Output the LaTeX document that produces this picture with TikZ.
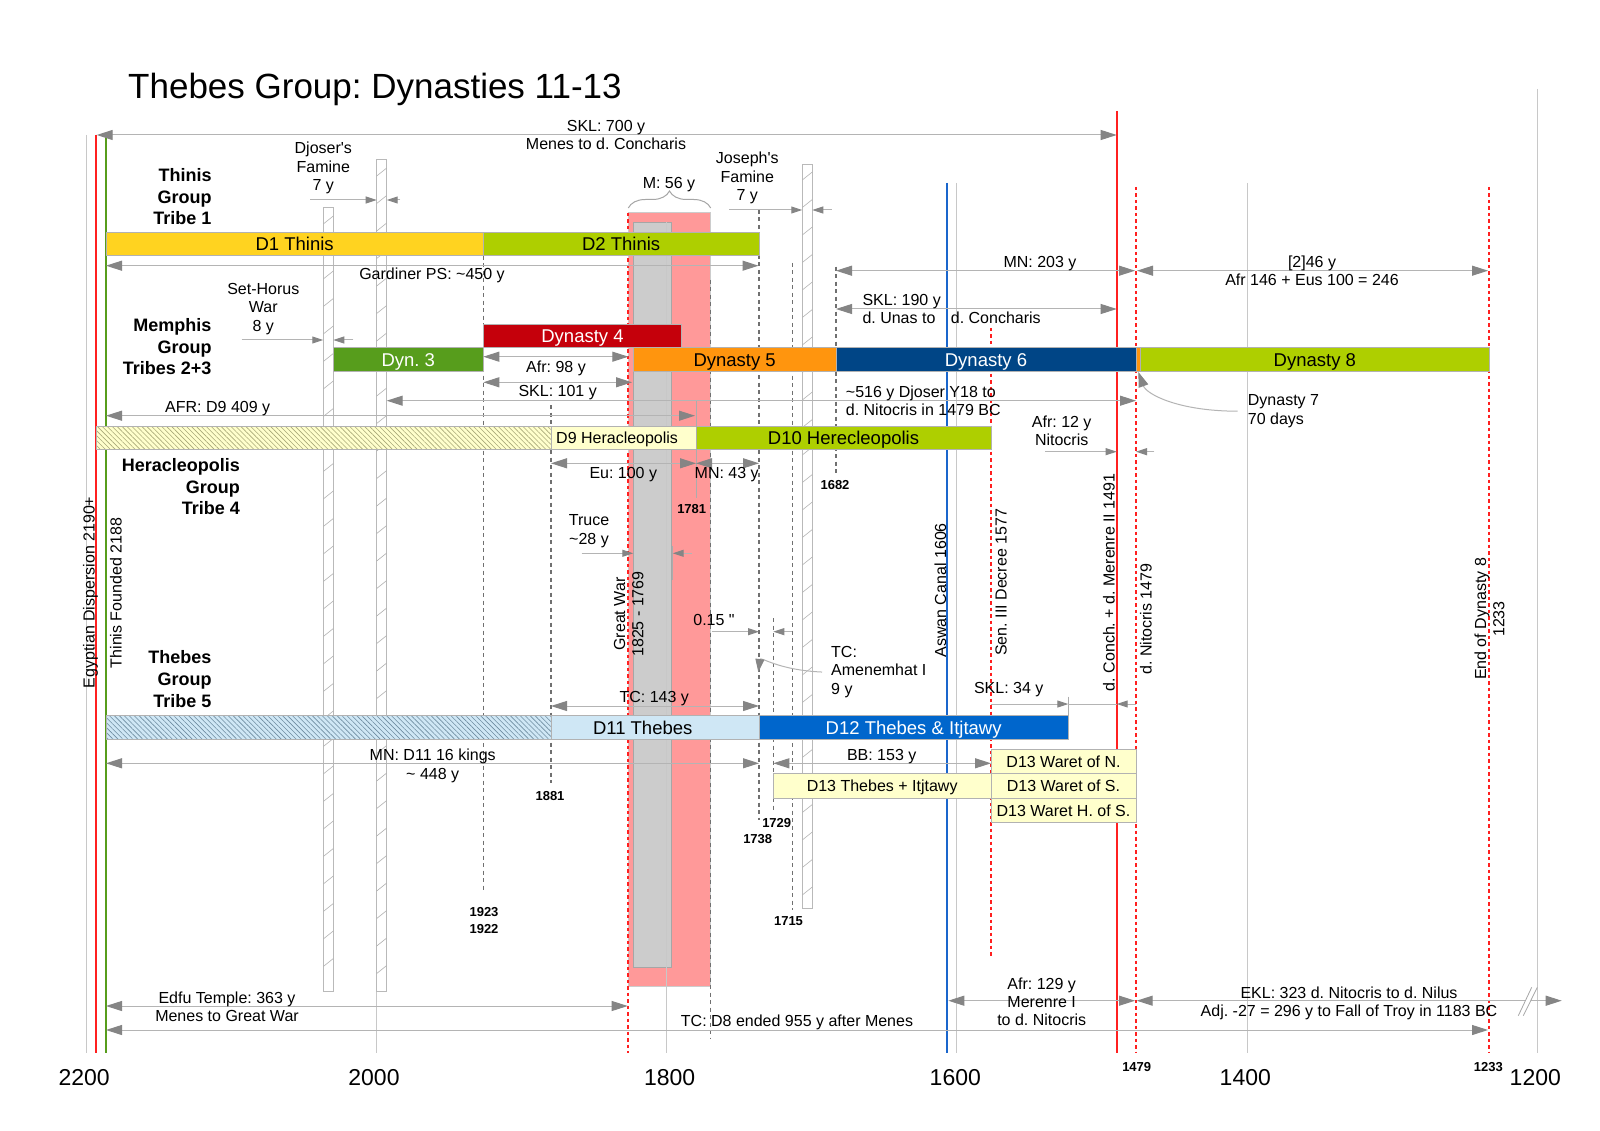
\documentclass[tikz,border=0pt]{standalone}
\usepackage{fontspec}
\setmainfont{Liberation Sans}[Ligatures=TeXOff]
\usetikzlibrary{arrows.meta,patterns.meta,decorations.pathreplacing,fit}
\definecolor{cD1}{HTML}{FFD320}
\definecolor{cLime}{HTML}{AECF00}
\definecolor{cD4}{HTML}{C5000B}
\definecolor{cD3}{HTML}{579D1C}
\definecolor{cOr}{HTML}{FF950E}
\definecolor{cD6}{HTML}{004586}
\definecolor{cD12}{HTML}{0066CC}
\definecolor{cLY}{HTML}{FFFFCC}
\definecolor{cLB}{HTML}{CFE7F5}
\definecolor{cHY}{HTML}{A8A878}
\definecolor{cHB}{HTML}{6E8CA0}
\definecolor{cRedBox}{HTML}{FF9999}
\definecolor{cGrayBox}{HTML}{CCCCCC}
\definecolor{cGrid}{HTML}{C8C8C8}
\definecolor{cDash}{HTML}{707070}
\definecolor{cRed}{HTML}{FF2020}
\definecolor{cGreen}{HTML}{579D1C}
\definecolor{cBlue}{HTML}{1A66CC}
\definecolor{cLine}{HTML}{B4B4B4}
\definecolor{cTip}{HTML}{858585}
\newcommand\mlc[1]{\begin{tabular}[t]{@{}c@{}}#1\end{tabular}}
\newcommand\mll[1]{\begin{tabular}[t]{@{}l@{}}#1\end{tabular}}
\newcommand\mlr[1]{\begin{tabular}[t]{@{}r@{}}#1\end{tabular}}
\tikzset{
  bigT/.tip={Triangle[length=16pt,width=10pt,color=cTip]},
  smT/.tip={Triangle[length=11pt,width=7pt,color=cTip]},
  lbl/.style={inner sep=0pt, font=\fontsize{16}{18.3}\selectfont},
  grp/.style={inner sep=0pt, font=\bfseries\fontsize{18}{21.7}\selectfont},
  yr/.style={inner sep=0pt, font=\bfseries\fontsize{13}{17}\selectfont},
  axl/.style={inner sep=0pt, font=\fontsize{23}{26}\selectfont},
  ttl/.style={inner sep=0pt, font=\fontsize{35}{40}\selectfont},
  barbox/.style={draw=gray!60, line width=0.6pt, inner sep=0pt},
  bartext/.style={inner sep=0pt, anchor=center, text height=13.2pt, text depth=0pt, font=\fontsize{18.5}{22}\selectfont},
  smalltext/.style={inner sep=0pt, anchor=center, text height=11.5pt, text depth=0pt, font=\fontsize{16}{18.3}\selectfont},
  dimline/.style={draw=cLine, line width=1pt},
  dimboth/.style={dimline, bigT-bigT},
  dimsm/.style={dimline, -smT},
  extln/.style={draw=gray!65, line width=1pt},
  gridln/.style={draw=cGrid, line width=1pt},
  gdash/.style={draw=cDash, line width=1.4pt, dash pattern=on 4pt off 3.5pt},
  rdot/.style={draw=cRed, line width=1.8pt, dash pattern=on 3.5pt off 3pt},
  redln/.style={draw=cRed, line width=2pt},
  greenln/.style={draw=cGreen, line width=2pt},
  blueln/.style={draw=cBlue, line width=2pt},
  vbar/.style={fill=white, draw=gray!55, line width=0.8pt},
  hsl/.style={draw=gray!60, line width=0.6pt},
}
\newcommand\tlbar[8]{\node[barbox, fill=#6, fit={(#2,#3) (#4,#5)}] (#1) {};
  \node[bartext, text=#7] (#1t) at (#1.center) {#8};}
\newcommand\tlsmall[6]{\node[barbox, fill=cLY, fit={(#2,#3) (#4,#5)}] (#1) {};
  \node[smalltext] (#1t) at (#1.center) {#6};}
\begin{document}
\frenchspacing
\begin{tikzpicture}[x=1pt,y=-1pt]
\useasboundingbox (0,0) rectangle (1600,1131);
\fill[white] (0,0) rectangle (1600,1131);

% Great War boxes
\draw[fill=cRedBox, draw=gray!40, line width=0.6pt] (628.3,212.7) rectangle (710.7,986.7);
\draw[fill=cGrayBox, draw=gray!70, line width=0.8pt] (633.3,222.3) rectangle (671.7,967.3);
\draw[draw=gray!70, line width=1pt, decorate, decoration={brace, amplitude=17pt}] (628.3,208) -- (710.7,208);

% grid lines
\draw[gridln] (86.7,135) -- (86.7,1053);
\draw[gridln] (376.7,991) -- (376.7,1053);
\draw[gridln] (666.7,222) -- (666.7,1053);
\draw[gridln] (956.7,183) -- (956.7,1053);
\draw[gridln] (1247.7,183) -- (1247.7,1053);
\draw[gridln] (1537.3,89) -- (1537.3,1053);

% hatched vertical bars
\draw[vbar] (323.3,207) rectangle (333.3,991);
\foreach \yy in {216,243.5,...,985} \draw[hsl] (323.3,\yy+8) -- (333.3,\yy);
\draw[vbar] (376.7,159) rectangle (386.7,991);
\foreach \yy in {168,195.5,...,985} \draw[hsl] (376.7,\yy+8) -- (386.7,\yy);
\draw[vbar] (802.3,164) rectangle (812.3,908);
\foreach \yy in {172,199.5,...,900} \draw[hsl] (802.3,\yy+8) -- (812.3,\yy);

% coloured vertical lines
\draw[redln] (96,135) -- (96,1053);
\draw[greenln] (106,135) -- (106,1053);
\draw[blueln] (947.3,183) -- (947.3,1053);
\draw[redln] (1116.7,111) -- (1116.7,1053);
\draw[rdot] (1136,187) -- (1136,1053);
\draw[rdot] (1489,187) -- (1489,1053);
\draw[rdot] (991,328) -- (991,958);
\draw[rdot] (628.3,212.7) -- (628.3,1053);

% grey dashed year lines
\draw[gdash] (483.3,255.7) -- (483.3,891.7);
\draw[gdash] (551,405) -- (551,783);
\draw[gdash] (710.7,280) -- (710.7,1039);
\draw[gdash] (759,210) -- (759,820);
\draw[gdash] (773.3,618) -- (773.3,811);
\draw[gdash] (792.3,263) -- (792.3,910);
\draw[gdash] (836,266.7) -- (836,473);

% bars
\tlbar{d1}{106}{232.3}{483.3}{255.7}{cD1}{black}{D1 Thinis}
\tlbar{d2}{483.3}{232.3}{759}{255.7}{cLime}{black}{D2 Thinis}
\tlbar{d4}{483.3}{324}{681.7}{347.7}{cD4}{white}{Dynasty 4}
\tlbar{d3}{333.3}{347.7}{483.3}{371.7}{cD3}{white}{Dyn. 3}
\tlbar{d5}{633.3}{347.7}{836}{371.7}{cOr}{black}{Dynasty 5}
\tlbar{d6}{836}{347.7}{1136}{371.7}{cD6}{white}{Dynasty 6}
\tlbar{d7}{1136}{347.7}{1140.7}{371.7}{cOr}{black}{}
\tlbar{d8}{1140.7}{347.7}{1489}{371.7}{cLime}{black}{Dynasty 8}
\path[fill=cLY] (96,426) rectangle (551,449);
\path[pattern={Lines[angle=-45,distance=3.5pt,line width=0.6pt]}, pattern color=cHY] (96,426) rectangle (551,449);
\draw[draw=gray!60, line width=0.6pt] (96,426) rectangle (551,449);
\tlbar{d9}{551}{426}{696}{449}{cLY}{black}{}
\node[lbl, anchor=base west] (d9lbl) at (556,443.2) {D9 Heracleopolis};
\tlbar{d10}{696}{426}{991}{449}{cLime}{black}{D10 Herecleopolis}
\path[fill=cLB] (106,715.7) rectangle (551,739.3);
\path[pattern={Lines[angle=-45,distance=3.5pt,line width=0.6pt]}, pattern color=cHB] (106,715.7) rectangle (551,739.3);
\draw[draw=gray!60, line width=0.6pt] (106,715.7) rectangle (551,739.3);
\tlbar{d11}{551}{715.7}{759}{739.3}{cLB}{black}{}
\node[bartext] (d11lbl) at (642.7,727.5) {D11 Thebes};
\tlbar{d12}{759}{715.7}{1068.3}{739.3}{cD12}{white}{D12 Thebes \& Itjtawy}
\tlsmall{d13n}{991}{749.3}{1136}{773.3}{D13 Waret of N.}
\tlsmall{d13t}{773.3}{773.3}{991}{798.3}{D13 Thebes + Itjtawy}
\tlsmall{d13s}{991}{773.3}{1136}{798.3}{D13 Waret of S.}
\tlsmall{d13h}{991}{798.3}{1136}{822.3}{D13 Waret H. of S.}

% extension lines
\draw[extln] (696,401) -- (696,498);
\draw[extln] (672.7,546) -- (672.7,580);
\draw[extln] (1068.3,696.7) -- (1068.3,715.7);

% dimension arrows
\draw[dimboth] (96.7,135) -- (1116.7,135);
\draw[dimsm] (310,200) -- (376.7,200);
\draw[dimsm] (400,200) -- (386.7,200);
\draw[dimsm] (241.7,340) -- (323.3,340);
\draw[dimsm] (353.3,340) -- (333.3,340);
\draw[dimsm] (729.3,210) -- (802.3,210);
\draw[dimsm] (831.7,210) -- (812.3,210);
\draw[dimboth] (106,265.7) -- (758.5,265.7);
\draw[dimboth] (836,270.7) -- (1135,270.7);
\draw[dimboth] (1137,270.7) -- (1488,270.7);
\draw[dimboth] (836,309) -- (1116.7,309);
\draw[dimboth] (483.3,356.7) -- (628.3,356.7);
\draw[dimboth] (483.3,382.3) -- (632,382.3);
\draw[dimboth] (386.7,400.7) -- (1136,400.7);
\draw[dimboth] (106,415.7) -- (695,415.7);
\draw[dimsm] (1045,451.7) -- (1116.7,451.7);
\draw[dimsm] (1154.3,451.7) -- (1136,451.7);
\draw[dimboth] (551,463.3) -- (696,463.3);
\draw[dimboth] (696,463.3) -- (759,463.3);
\draw[dimsm] (581.7,553.3) -- (633.3,553.3);
\draw[dimsm] (691.7,553.3) -- (672.7,553.3);
\draw[dimsm] (711.7,631.7) -- (759,631.7);
\draw[dimsm] (792,631.7) -- (773.3,631.7);
\draw[dimboth] (551,706) -- (759,706);
\draw[dimsm] (991,704) -- (1068.3,704);
\draw[dimline] (1068.3,704) -- (1116.7,704);
\draw[dimsm] (1136,704) -- (1116.7,704);
\draw[dimboth] (106,763.3) -- (759,763.3);
\draw[dimboth] (773.3,763.3) -- (991,763.3);
\draw[dimboth] (106,1006) -- (627.7,1006);
\draw[dimboth] (106,1030) -- (1488,1030);
\draw[dimboth] (948.3,1000.7) -- (1135,1000.7);
\draw[dimboth] (1136.7,1000.7) -- (1561.7,1000.7);
\fill[white] (1518.3,1015.7) -- (1531.7,987.3) -- (1537.3,987.3) -- (1523.3,1015.7) -- cycle;
\draw[draw=gray!70, line width=0.8pt] (1518.3,1015.7) -- (1531.7,987.3);
\draw[draw=gray!70, line width=0.8pt] (1523.3,1015.7) -- (1537.3,987.3);

% title
\node[ttl, anchor=base west] (title) at (128,98.5) {Thebes Group: Dynasties 11-13};

% group labels
\node[grp, anchor=base east] (g1) at (211.7,181.4) {\mlr{Thinis\\Group\\Tribe 1}};
\node[grp, anchor=base east] (g2) at (211.7,331.4) {\mlr{Memphis\\Group\\Tribes 2+3}};
\node[grp, anchor=base east] (g3) at (240,471.4) {\mlr{Heracleopolis\\Group\\Tribe 4}};
\node[grp, anchor=base east] (g4) at (211.7,663.7) {\mlr{Thebes\\Group\\Tribe 5}};

% labels
\node[lbl, anchor=base] (skl700) at (606,131.4) {\mlc{SKL: 700 y\\Menes to d. Concharis}};
\node[lbl, anchor=base] (djf) at (323.3,154) {\mlc{Djoser's\\Famine\\7 y}};
\node[lbl, anchor=base] (shw) at (263.3,294.7) {\mlc{Set-Horus\\War\\8 y}};
\node[lbl, anchor=base] (jf) at (747.3,164) {\mlc{Joseph's\\Famine\\7 y}};
\node[lbl, anchor=base] (m56) at (669,188.4) {M: 56 y};
\node[lbl, anchor=base] (gps) at (432,280) {Gardiner PS: \textasciitilde450 y};
\node[lbl, anchor=base] (mn203) at (1040,267.4) {MN: 203 y};
\node[lbl, anchor=base] (a246) at (1312,267.4) {\mlc{{[2]}46 y\\Afr 146 + Eus 100 = 246}};
\node[lbl, anchor=base west] (skl190) at (862.3,305.7) {\mll{SKL: 190 y\\d. Unas to\hspace{11pt} d. Concharis}};
\node[lbl, anchor=base] (afr98) at (556,372.4) {Afr: 98 y};
\node[lbl, anchor=base] (skl101) at (557.7,396.7) {SKL: 101 y};
\node[lbl, anchor=base west] (dj516) at (845.7,397.4) {\mll{\textasciitilde516 y Djoser Y18 to\\d. Nitocris in 1479 BC}};
\node[lbl, anchor=base] (afrd9) at (217.7,412.4) {AFR: D9 409 y};
\node[lbl, anchor=base] (afr12) at (1061.7,427.4) {\mlc{Afr: 12 y\\Nitocris}};
\node[lbl, anchor=base west] (d7lbl) at (1247.7,405.7) {\mll{Dynasty 7\\70 days}};
\node[lbl, anchor=base] (eu100) at (623.3,478.4) {Eu: 100 y};
\node[lbl, anchor=base] (mn43) at (726.7,478.4) {MN: 43 y};
\node[lbl, anchor=base] (truce) at (589,525.7) {\mlc{Truce\\\textasciitilde28 y}};
\node[lbl, anchor=base] (p15) at (714,625) {0.15 "};
\node[lbl, anchor=base west] (tcam) at (831,657.4) {\mll{TC:\\Amenemhat I\\9 y}};
\node[lbl, anchor=base] (tc143) at (654.3,702.4) {TC: 143 y};
\node[lbl, anchor=base] (skl34) at (1008.7,693.4) {SKL: 34 y};
\node[lbl, anchor=base] (mnd11) at (432.7,760.7) {\mlc{MN: D11 16 kings\\\textasciitilde{} 448 y}};
\node[lbl, anchor=base] (bb153) at (881.7,760) {BB: 153 y};
\node[lbl, anchor=base] (edfu) at (227,1003) {\mlc{Edfu Temple: 363 y\\Menes to Great War}};
\node[lbl, anchor=base] (tcd8) at (797,1026.4) {TC: D8 ended 955 y after Menes};
\node[lbl, anchor=base] (afr129) at (1041.7,989) {\mlc{Afr: 129 y\\Merenre I\\to d. Nitocris}};
\node[lbl, anchor=base] (ekl) at (1349,998) {\mlc{EKL: 323 d. Nitocris to d. Nilus\\Adj. -27 = 296 y to Fall of Troy in 1183 BC}};

% rotated labels
\node[lbl, rotate=90, anchor=base] (egd) at (94.5,592.5) {Egyptian Dispersion 2190+};
\node[lbl, rotate=90, anchor=base] (thf) at (121.5,593) {Thinis Founded 2188};
\node[lbl, rotate=90, anchor=base] (gw) at (625,614) {\mlc{Great War\\1825 - 1769}};
\node[lbl, rotate=90, anchor=base] (asw) at (946,590.3) {Aswan Canal 1606};
\node[lbl, rotate=90, anchor=base] (sen) at (1006.5,582.3) {Sen. III Decree 1577};
\node[lbl, rotate=90, anchor=base] (dco) at (1114.5,582.3) {d. Conch. + d. Merenre II 1491};
\node[lbl, rotate=90, anchor=base] (dni) at (1151.5,619) {d. Nitocris 1479};
\node[lbl, rotate=90, anchor=base] (eod) at (1486,619) {\mlc{End of Dynasty 8\\1233}};

% year marks
\node[yr, anchor=base] (y1923) at (484,916.7) {\mlc{1923\\1922}};
\node[yr, anchor=base] (y1881) at (550,800.7) {1881};
\node[yr, anchor=base] (y1738) at (757.7,843.7) {1738};
\node[yr, anchor=base] (y1729) at (776.7,827.7) {1729};
\node[yr, anchor=base] (y1715) at (788.5,925.4) {1715};
\node[yr, anchor=base] (y1682) at (835,489.7) {1682};
\node[yr, anchor=base] (y1781) at (691.7,513.7) {1781};
\node[yr, anchor=base] (y1479) at (1136.7,1071.4) {1479};
\node[yr, anchor=base] (y1233) at (1488.3,1071.4) {1233};

% axis
\node[axl, anchor=base] (a2200) at (84.2,1085) {2200};
\node[axl, anchor=base] (a2000) at (374,1085) {2000};
\node[axl, anchor=base] (a1800) at (669.7,1085) {1800};
\node[axl, anchor=base] (a1600) at (955.3,1085) {1600};
\node[axl, anchor=base] (a1400) at (1245.3,1085) {1400};
\node[axl, anchor=base] (a1200) at (1535.3,1085) {1200};

% curved pointers
\draw[dimline, -{Triangle[length=15pt,width=10pt,color=cTip]}] ([xshift=-10pt]d7lbl.west) .. controls +(-60,0) and +(8,22) .. (d7.south);
\coordinate (amtip) at (758.3,672);
\draw[dimline, -{Triangle[length=13pt,width=9pt,color=cTip]}] ([xshift=-9pt]tcam.west) .. controls +(-45,-2) and +(2,-16) .. (amtip);
\end{tikzpicture}
\end{document}
